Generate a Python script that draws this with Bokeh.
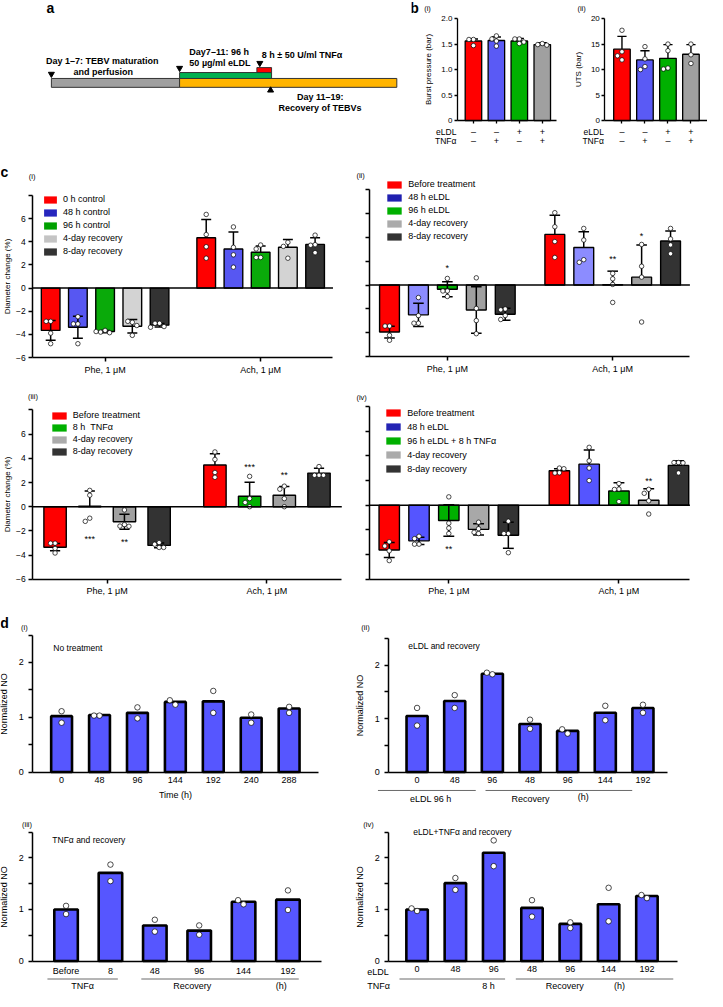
import math
from bokeh.plotting import figure
from bokeh.models import Range1d, FixedTicker, Label, Legend, LegendItem, LinearAxis
from bokeh.layouts import row, column
from bokeh.embed import file_html
from bokeh.resources import INLINE
from bokeh.core.properties import value

FONT = "Liberation Sans"
NAN = float("nan")

# ======================= DATA =======================
# (a) schematic time line (schematic units)
a_stage_label = ["TEBV maturation", "Recovery", "eLDL 96 h", "TNFα 8 h"]
a_stage_start = [52, 183, 183, 262]
a_stage_end = [183, 405, 277, 277]
a_stage_lane = [0, 0, 1, 2]
a_stage_color = ["#A0A0A0", "#FFB400", "#00B050", "#FF0000"]
a_start_marks = [52, 183, 265]
a_start_lane = [0, 1, 2]
a_end_marks = [276]

# (b) mechanical properties
b_eldl = ["–", "–", "+", "+"]
b_tnf = ["–", "+", "–", "+"]
b_colors = ["#FF0000", "#5A5AF5", "#00B000", "#A0A0A0"]
burst_mean = [1.56, 1.57, 1.56, 1.49]
burst_sd = [0.04, 0.07, 0.05, 0.035]
burst_pts = [[1.59, 1.59, 1.47], [1.66, 1.60, 1.56, 1.46], [1.60, 1.60, 1.54, 1.51], [1.51, 1.49, 1.48]]
uts_mean = [14.0, 11.9, 12.2, 13.0]
uts_sd = [2.5, 1.8, 2.7, 1.9]
uts_pts = [[17.7, 13.5, 12.7, 11.9], [14.5, 12.1, 10.6, 10.0], [15.0, 13.7, 10.3, 10.1], [15.0, 12.9, 11.2]]

# (c) diameter change
c_groups = ["Phe, 1 μM", "Ach, 1 μM"]

c1_series = ["0 h control", "48 h control", "96 h control", "4-day recovery", "8-day recovery"]
c1_phe_mean = [-3.65, -3.38, -3.75, -3.30, -3.20]
c1_phe_sd = [0.85, 0.96, 0.10, 0.58, 0.15]
c1_phe_pts = [[-2.87, -2.87, -3.89, -4.8], [-2.47, -3.09, -3.09, -4.8], [-3.65, -3.8, -3.85, -3.75],
              [-2.95, -2.87, -3.23, -4.08], [-3.04, -3.04, -3.32, -3.38]]
c1_ach_mean = [4.34, 3.38, 3.09, 3.52, 3.77]
c1_ach_sd = [1.59, 1.47, 0.54, 0.68, 0.57]
c1_ach_pts = [[6.36, 4.62, 3.57, 2.58], [5.28, 3.52, 2.87, 1.81], [3.72, 3.38, 2.64, 2.64],
              [3.95, 3.6, 2.58], [4.57, 3.75, 3.7, 3.06]]
c1_stars = []

c2_series = ["Before treatment", "48 h eLDL", "96 h eLDL", "4-day recovery", "8-day recovery"]
c2_phe_mean = [-3.94, -2.50, -0.36, -2.10, -2.45]
c2_phe_sd = [0.49, 0.98, 0.63, 1.95, 0.50]
c2_phe_pts = [[-3.44, -3.44, -4.21, -4.63], [-1.05, -2.56, -3.2, -3.2], [0.55, -0.5, -0.5, -0.96],
              [0.6, -1.96, -2.98, -4.08], [-2.01, -2.08, -2.56, -2.89]]
c2_ach_mean = [4.24, 3.14, 0.02, 0.66, 3.69]
c2_ach_sd = [1.60, 1.32, 1.14, 2.70, 0.83]
c2_ach_pts = [[6.06, 4.88, 3.64, 2.31], [4.74, 3.77, 2.12, 1.9], [0.97, 0.52, 0.05, -1.46],
              [3.4, 1.57, 0.66, -3.1], [4.74, 3.86, 3.36, 2.62]]
c2_stars = [("*", 0, 2, 1.43), ("**", 1, 2, 2.15), ("*", 1, 3, 4.13)]

c3_series = ["Before treatment", "8 h  TNFα", "4-day recovery", "8-day recovery"]
c3_phe_mean = [-3.35, 0.04, -1.24, -3.20]
c3_phe_sd = [0.30, 1.25, 0.62, 0.20]
c3_phe_pts = [[-3.02, -3.02, -3.45, -3.83], [1.35, 0.95, -0.95, -1.21], [-0.27, -1.48, -1.6, -1.62],
              [-2.97, -3.1, -3.37, -3.37]]
c3_ach_mean = [3.45, 0.86, 0.95, 2.78]
c3_ach_sd = [0.92, 1.16, 0.73, 0.40]
c3_ach_pts = [[4.53, 3.91, 2.83, 2.43], [2.51, 0.67, 0.35, 0.0], [1.7, 1.45, 0.67, 0.0], [3.32, 2.6, 2.6, 2.6]]
c3_stars = [("***", 0, 1, -2.7), ("**", 0, 2, -2.92), ("***", 1, 1, 3.3), ("**", 1, 2, 2.65)]

c4_series = ["Before treatment", "48 h eLDL", "96 h eLDL + 8 h TNFα", "4-day recovery", "8-day recovery"]
c4_phe_mean = [-3.63, -2.89, -1.24, -1.96, -2.44]
c4_phe_sd = [0.60, 0.30, 1.28, 0.45, 1.06]
c4_phe_pts = [[-2.97, -3.31, -3.7, -4.49], [-2.52, -2.71, -3.16, -3.16], [0.67, -1.46, -1.86, -2.3],
              [-1.38, -1.91, -2.2, -2.3], [-1.3, -2.3, -2.3, -3.85]]
c4_ach_mean = [2.79, 3.32, 1.15, 0.40, 3.22]
c4_ach_sd = [0.16, 1.14, 0.66, 0.93, 0.37]
c4_ach_pts = [[3.0, 2.62, 2.6, 2.95], [4.68, 3.59, 3.0, 1.99], [1.75, 1.3, 1.27, 0.29],
              [1.28, 0.96, 0.35, -0.72], [3.45, 3.45, 3.42, 2.61]]
c4_stars = [("**", 0, 2, -3.58), ("**", 1, 3, 1.94)]

# (d) normalized NO
d1_labels = ["0", "48", "96", "144", "192", "240", "288"]
d1_mean = [1.02, 1.04, 1.08, 1.28, 1.29, 0.99, 1.16]
d1_pts = [[1.11, 0.90], [1.03, 1.03], [1.18, 0.98], [1.23, 1.31], [1.48, 1.08], [1.05, 0.90], [1.08, 1.19]]
d2_labels = ["0", "48", "96", "48", "96", "144", "192"]
d2_mean = [1.05, 1.33, 1.84, 0.90, 0.77, 1.11, 1.20]
d2_pts = [[1.20, 0.87], [1.44, 1.20], [1.83, 1.86], [0.98, 0.81], [0.72, 0.80], [1.24, 0.97], [1.26, 1.11]]
d3_labels = ["Before", "8", "48", "96", "144", "192"]
d3_mean = [1.00, 1.71, 0.69, 0.59, 1.15, 1.19]
d3_pts = [[1.07, 0.91], [1.87, 1.55], [0.80, 0.57], [0.69, 0.51], [1.10, 1.18], [1.37, 0.99]]
d4_labels = ["0", "48", "96", "48", "96", "144", "192"]
d4_mean = [1.00, 1.51, 2.10, 1.03, 0.72, 1.10, 1.26]
d4_pts = [[0.97, 1.02], [1.61, 1.38], [2.34, 1.84], [1.18, 0.86], [0.75, 0.64], [1.42, 0.77], [1.22, 1.28]]


# ======================= HELPERS =======================
def X(x):
    return 8 + x * 707.0 / 723.0


def Y(y):
    return 8 + y * 991.0 / 1007.0


def make_fig(cell, frame, xr, yr):
    """Figure covering the whole cell; the data region ('frame') maps xr/yr."""
    cx0, cy0, cx1, cy1 = cell
    fx0, fy0, fx1, fy1 = frame

    def fx(px):
        return xr[0] + (px - fx0) / (fx1 - fx0) * (xr[1] - xr[0])

    def fy(py):
        return yr[1] - (py - fy0) / (fy1 - fy0) * (yr[1] - yr[0])

    p = figure(width=round(X(cx1)) - round(X(cx0)), height=round(Y(cy1)) - round(Y(cy0)),
               x_range=Range1d(fx(cx0), fx(cx1)), y_range=Range1d(fy(cy1), fy(cy0)),
               min_border=0, x_axis_type=None, y_axis_type=None,
               output_backend="svg", toolbar_location=None, title=None)
    p.outline_line_color = None
    p.background_fill_color = "white"
    p.border_fill_color = "white"
    p.grid.visible = False
    xpx = (X(fx1) - X(fx0)) / (xr[1] - xr[0])
    ypx = (Y(fy1) - Y(fy0)) / abs(yr[1] - yr[0])
    return p, fx, fy, xpx, ypx


def add_text(p, x, y, text, size="8.5px", align="center", bold=False, baseline="middle", color="black"):
    p.add_layout(Label(x=x, y=y, text=text, text_font=FONT, text_font_size=size,
                       text_align=align, text_baseline=baseline, text_color=color,
                       text_font_style="bold" if bold else "normal"))


def style_axis(ax, size="8.5px", lw=1.3):
    ax.axis_line_color = "black"
    ax.axis_line_width = lw
    ax.major_tick_line_color = "black"
    ax.major_tick_line_width = lw
    ax.major_tick_out = 4
    ax.major_tick_in = 0
    ax.minor_tick_line_color = None
    ax.major_label_text_font = FONT
    ax.major_label_text_font_size = size
    ax.major_label_text_color = "black"
    ax.major_label_standoff = 4
    ax.axis_label_text_font = FONT
    ax.axis_label_text_font_style = "normal"
    ax.axis_label_text_font_size = size
    ax.axis_label_text_color = "black"


def add_axes(p, xr, yr, xticks, xlabels, yticks, ylabels, size="8.5px", lw=1.3):
    yax = LinearAxis(fixed_location=xr[0], bounds=(yr[0], yr[1]), ticker=FixedTicker(ticks=yticks),
                     major_label_overrides=dict(zip(yticks, ylabels)))
    xax = LinearAxis(fixed_location=yr[0], bounds=(xr[0], xr[1]), ticker=FixedTicker(ticks=xticks),
                     major_label_overrides=dict(zip(xticks, xlabels)))
    style_axis(yax, size, lw)
    style_axis(xax, size, lw)
    p.add_layout(yax, "left")
    p.add_layout(xax, "below")
    return xax, yax


def swarm(vals, xpx, ypx, d):
    placed, out = [], []
    for v in vals:
        ox = 0.0
        for k in (0, -1, 1, -2, 2, -3, 3):
            ox = k * d
            if all(math.hypot(ox - qx, (v - qv) * ypx) >= d for qx, qv in placed):
                break
        placed.append((ox, v))
        out.append(ox / xpx)
    return out


# ======================= PANEL a =======================
fa, _, _, _, _ = make_fig((0, 0, 420, 152), (0, 0, 420, 152), (0, 420), (152, 0))
lane_top = [79, 73, 68]
lane_bot = [88, 79, 73]
fa.quad(left=a_stage_start, right=a_stage_end,
        top=[lane_top[l] for l in a_stage_lane], bottom=[lane_bot[l] for l in a_stage_lane],
        fill_color=a_stage_color, line_color="#333333", line_width=1)
fa.scatter(x=a_start_marks, y=[lane_top[l] - 4.5 for l in a_start_lane], marker="inverted_triangle",
           size=6, color="black")
fa.scatter(x=a_end_marks, y=[lane_bot[0] + 3] * len(a_end_marks), marker="triangle", size=6, color="black")
add_text(fa, 51, 7.5, "a", "14px", bold=True)
add_text(fa, 104, 61, "Day 1–7: TEBV maturation", "9px", bold=True)
add_text(fa, 105, 72, "and perfusion", "9px", bold=True)
add_text(fa, 193, 52, "Day7–11: 96 h", "9px", align="left", bold=True)
add_text(fa, 193, 63, "50 µg/ml eLDL", "9px", align="left", bold=True)
add_text(fa, 267, 55, "8 h ± 50 U/ml TNFα", "9px", align="left", bold=True)
add_text(fa, 303, 98, "Day 11–19:", "9px", align="left", bold=True)
add_text(fa, 284, 109, "Recovery of TEBVs", "9px", align="left", bold=True)


# ======================= PANEL b =======================
def b_panel(cell, frame, xr, yr, ticks, labels, means, sds, pts, ylabel, tag, tag_xy, row_lab_x, letter=None):
    p, fx, fy, xpx, ypx = make_fig(cell, frame, xr, yr)
    xs = list(range(len(means)))
    p.vbar(x=xs, top=means, bottom=0, width=0.72, fill_color=b_colors, line_color="black", line_width=1.3)
    cap = 0.2
    sx0, sy0, sx1, sy1 = [], [], [], []
    for x, m, s in zip(xs, means, sds):
        sx0 += [x, x - cap]; sx1 += [x, x + cap]; sy0 += [m, m + s]; sy1 += [m + s, m + s]
    p.segment(x0=sx0, y0=sy0, x1=sx1, y1=sy1, line_color="black", line_width=1.4)
    qx, qy = [], []
    for x, vals in zip(xs, pts):
        for v, o in zip(vals, swarm(vals, xpx, ypx, 4.5)):
            qx.append(x + o); qy.append(v)
    p.scatter(qx, qy, marker="circle", size=4.5, fill_color="white", line_color="black", line_width=0.7)
    xax, yax = add_axes(p, xr, yr, xs, [""] * len(xs), ticks, labels, "8px", 1.3)
    yax.major_tick_out = 3
    yax.major_label_standoff = 2
    yax.axis_label = ylabel
    yax.axis_label_standoff = 5
    xax.major_tick_out = 3
    for x, s1, s2 in zip(xs, b_eldl, b_tnf):
        add_text(p, x, fy(133), s1, "9px")
        add_text(p, x, fy(142.5), s2, "9px")
    add_text(p, fx(row_lab_x), fy(133), "eLDL", "8.5px", align="right")
    add_text(p, fx(row_lab_x), fy(142.5), "TNFα", "8.5px", align="right")
    add_text(p, fx(tag_xy[0]), fy(tag_xy[1]), tag, "7.5px", align="left")
    if letter:
        add_text(p, fx(letter[1]), fy(letter[2]), letter[0], "14px", bold=True)
    return p


fb1 = b_panel((420, 0, 588, 152), (467, 18.3, 569, 121.7), (-0.70, 3.64), (0, 2.0),
              [0, 0.5, 1, 1.5, 2], ["0", "0.5", "1.0", "1.5", "2.0"],
              burst_mean, burst_sd, burst_pts, "Burst pressure (bar)", "(i)", (433, 8), 466,
              letter=("b", 423, 8))
fb2 = b_panel((588, 0, 723, 152), (618, 18.3, 723, 121.7), (-0.745, 3.72), (0, 20),
              [0, 5, 10, 15, 20], ["0", "5", "10", "15", "20"],
              uts_mean, uts_sd, uts_pts, "UTS (bar)", "(ii)", (590, 8), 617)


# ======================= PANEL c =======================
def c_panel(cell, frame, xr, pitch, bw, series, bar_cols, leg_cols,
            phe_m, phe_s, phe_p, ach_m, ach_s, ach_p, stars,
            tag, tag_xy, leg_left, leg_first, leg_step, leg_gw, ylabel, letter=None):
    yr = (-6, 8)
    p, fx, fy, xpx, ypx = make_fig(cell, frame, xr, yr)
    n = len(series)
    bar_x, bar_top, bar_col = [], [], []
    sx0, sy0, sx1, sy1 = [], [], [], []
    qx, qy = [], []
    cap = 0.032
    for g, (ms, ss, ps) in enumerate(((phe_m, phe_s, phe_p), (ach_m, ach_s, ach_p))):
        for k in range(n):
            x = g + (k - (n - 1) / 2.0) * pitch
            m, s = ms[k], ss[k]
            bar_x.append(x); bar_top.append(m); bar_col.append(bar_cols[k])
            hi = m + s
            lo = m if m >= 0 else m - s
            sx0 += [x, x - cap]; sx1 += [x, x + cap]; sy0 += [lo, hi]; sy1 += [hi, hi]
            if m < 0:
                sx0.append(x - cap); sx1.append(x + cap); sy0.append(lo); sy1.append(lo)
            for v, o in zip(ps[k], swarm(ps[k], xpx, ypx, 4.5)):
                qx.append(x + o); qy.append(v)
    p.vbar(x=bar_x, top=bar_top, bottom=0, width=bw, fill_color=bar_col, line_color="black", line_width=1.4)
    p.segment(x0=sx0, y0=sy0, x1=sx1, y1=sy1, line_color="black", line_width=1.5)
    p.scatter(qx, qy, marker="circle", size=4.5, fill_color="white", line_color="black", line_width=0.7)
    p.segment(x0=[xr[0]], y0=[0], x1=[xr[1]], y1=[0], line_color="black", line_width=1.5)
    if stars:
        p.text(x=[g + (k - (n - 1) / 2.0) * pitch for _, g, k, _ in stars],
               y=[yv for _, _, _, yv in stars], text=[t for t, _, _, _ in stars],
               text_font=value(FONT), text_font_size="9px", text_align="center", text_baseline="middle")
    yt = [-6, -4, -2, 0, 2, 4, 6, 8]
    if ylabel:
        ylabs = ["−6", "−4", "−2", "0", "2", "4", "6", ""]
    else:
        ylabs = [""] * len(yt)
    xax, yax = add_axes(p, xr, yr, [0, 1], c_groups, yt, ylabs, "8.5px", 1.5)
    if ylabel:
        yax.axis_label = ylabel
        yax.major_label_standoff = 3
        yax.axis_label_standoff = 1
        yax.axis_label_text_font_size = "8px"
    xax.major_label_standoff = 3
    xax.major_label_text_font_size = "9px"
    items = []
    for name, col in zip(series, leg_cols):
        r = p.quad(left=[NAN], right=[NAN], top=[NAN], bottom=[NAN], fill_color=col, line_color=None)
        items.append(LegendItem(label=name, renderers=[r]))
    leg_top = leg_first - leg_step / 2.0
    leg_bottom = leg_top + n * leg_step
    legend = Legend(items=items, location=(X(leg_left) - X(cell[0]), Y(cell[3]) - Y(leg_bottom)),
                    padding=0, margin=0, spacing=0, label_height=int(round(leg_step)),
                    glyph_height=9, glyph_width=leg_gw, label_standoff=5,
                    label_text_font=FONT, label_text_font_size="9px", label_text_color="black",
                    border_line_color=None, background_fill_alpha=0)
    p.add_layout(legend)
    add_text(p, fx(tag_xy[0]), fy(tag_xy[1]), tag, "7.5px", align="left")
    if letter:
        add_text(p, fx(letter[1]), fy(letter[2]), letter[0], "14px", bold=True)
    return p


RED, GRN, DRK = "#FF0000", "#00B000", "#333333"
fc1 = c_panel((0, 152, 362, 386), (33, 197.7, 340, 362.7), (-0.465, 1.465), 0.175, 0.12,
              c1_series, [RED, "#5757F2", "#0AAA0A", "#D3D3D3", DRK],
              [RED, "#2626BE", "#00A000", "#C4C4C4", DRK],
              c1_phe_mean, c1_phe_sd, c1_phe_pts, c1_ach_mean, c1_ach_sd, c1_ach_pts, c1_stars,
              "(i)", (29, 178), 43, 203.5, 13, 16, "Diameter change (%)", letter=("c", 4, 174))
fc2 = c_panel((362, 152, 723, 386), (377, 191.7, 705, 361.7), (-0.473, 1.467), 0.175, 0.12,
              c2_series, [RED, "#8C8CFF", GRN, "#A0A0A0", DRK],
              [RED, "#2020B0", GRN, "#ABABAB", DRK],
              c2_phe_mean, c2_phe_sd, c2_phe_pts, c2_ach_mean, c2_ach_sd, c2_ach_pts, c2_stars,
              "(ii)", (364, 177), 394, 187, 13.2, 18, None)
fc3 = c_panel((0, 386, 362, 614), (33, 416, 349, 588.3), (-0.465, 1.468), 0.217, 0.14,
              c3_series, [RED, GRN, "#A0A0A0", DRK],
              [RED, GRN, "#ABABAB", DRK],
              c3_phe_mean, c3_phe_sd, c3_phe_pts, c3_ach_mean, c3_ach_sd, c3_ach_pts, c3_stars,
              "(iii)", (28, 402), 51, 423, 12, 18, "Diameter change (%)")
fc4 = c_panel((362, 386, 723, 614), (377, 412.3, 705, 588.3), (-0.468, 1.417), 0.175, 0.12,
              c4_series, [RED, "#5555FF", GRN, "#A8A8A8", DRK],
              [RED, "#2424B4", GRN, "#ABABAB", DRK],
              c4_phe_mean, c4_phe_sd, c4_phe_pts, c4_ach_mean, c4_ach_sd, c4_ach_pts, c4_stars,
              "(iv)", (364, 403), 393, 418.5, 14.5, 18, None)


# ======================= PANEL d =======================
D_BLUE = "#5656FF"


def d_panel(cell, frame, xr, bw, labels, means, pts, tag, tag_xy, note, note_xy, xlabel=None, letter=None):
    yr = (0, 2.5)
    p, fx, fy, xpx, ypx = make_fig(cell, frame, xr, yr)
    xs = list(range(len(means)))
    p.vbar(x=xs, top=means, bottom=0, width=bw, fill_color=D_BLUE, line_color="black", line_width=2.6)
    qx, qy = [], []
    for x, vals in zip(xs, pts):
        for v, o in zip(vals, swarm(vals, xpx, ypx, 5.5)):
            qx.append(x + o); qy.append(v)
    p.scatter(qx, qy, marker="circle", size=5.5, fill_color="white", line_color="black", line_width=0.7)
    yt = [0, 0.5, 1, 1.5, 2, 2.5]
    xax, yax = add_axes(p, xr, yr, xs, labels, yt, ["0", "", "1", "", "2", ""], "9px", 1.5)
    yax.major_label_standoff = 5
    yax.axis_label = "Normalized NO"
    yax.axis_label_standoff = 6
    xax.major_tick_out = 0
    xax.major_label_standoff = 5
    if xlabel:
        xax.axis_label = xlabel
        xax.axis_label_standoff = 3
    add_text(p, fx(tag_xy[0]), fy(tag_xy[1]), tag, "7.5px", align="left")
    add_text(p, fx(note_xy[0]), fy(note_xy[1]), note, "8.5px", align="left")
    if letter:
        add_text(p, fx(letter[1]), fy(letter[2]), letter[0], "14px", bold=True)
    return p, fx, fy


def group_line(p, fx, fy, x0, x1, y):
    p.segment(x0=[fx(x0)], y0=[fy(y)], x1=[fx(x1)], y1=[fy(y)], line_color="#444444", line_width=0.8)


fd1, _, _ = d_panel((0, 614, 362, 822), (33, 645, 325, 784), (-0.76, 6.77), 0.55, d1_labels, d1_mean, d1_pts,
                    "(i)", (21, 637), "No treatment", (54, 658), xlabel="Time (h)", letter=("d", 4, 633))
fd2, gx, gy = d_panel((362, 614, 723, 822), (397, 648.5, 682, 784), (-0.753, 6.65), 0.56, d2_labels, d2_mean,
                      d2_pts, "(ii)", (369, 637), "eLDL and recovery", (417, 656))
group_line(fd2, gx, gy, 386, 486, 802.7)
group_line(fd2, gx, gy, 496, 646, 802.7)
add_text(fd2, gx(440), gy(811), "eLDL 96 h", "9px")
add_text(fd2, gx(542), gy(811), "Recovery", "9px")
add_text(fd2, gx(596), gy(809.5), "(h)", "9px")

fd3, hx, hy = d_panel((0, 822, 362, 1007), (33, 845, 328, 976), (-0.75, 5.75), 0.53, d3_labels, d3_mean,
                      d3_pts, "(iii)", (22, 837), "TNFα and recovery", (53, 852.7))
group_line(fd3, hx, hy, 48, 120, 994.3)
group_line(fd3, hx, hy, 144, 305, 994.3)
add_text(fd3, hx(84), hy(1001.5), "TNFα", "9px")
add_text(fd3, hx(196), hy(1001.5), "Recovery", "9px")
add_text(fd3, hx(287), hy(1001.5), "(h)", "9px")

fd4, kx, ky = d_panel((362, 822, 723, 1007), (397, 845, 692, 976), (-0.74, 6.79), 0.56, d4_labels, d4_mean,
                      d4_pts, "(iv)", (371, 837), "eLDL+TNFα and recovery", (422, 845))
add_text(fd4, kx(375), ky(987), "eLDL", "9px", align="left")
add_text(fd4, kx(375), ky(1001.5), "TNFα", "9px", align="left")
group_line(fd4, kx, ky, 408, 516, 994.3)
group_line(fd4, kx, ky, 527, 688, 994.3)
add_text(fd4, kx(499), ky(1001.5), "8 h", "9px")
add_text(fd4, kx(577), ky(1001.5), "Recovery", "9px")
add_text(fd4, kx(633), ky(1001.5), "(h)", "9px")

layout = column(
    row(fa, fb1, fb2, spacing=0),
    row(fc1, fc2, spacing=0),
    row(fc3, fc4, spacing=0),
    row(fd1, fd2, spacing=0),
    row(fd3, fd4, spacing=0),
    spacing=0,
)

open("out.html", "w").write(file_html(layout, INLINE))
